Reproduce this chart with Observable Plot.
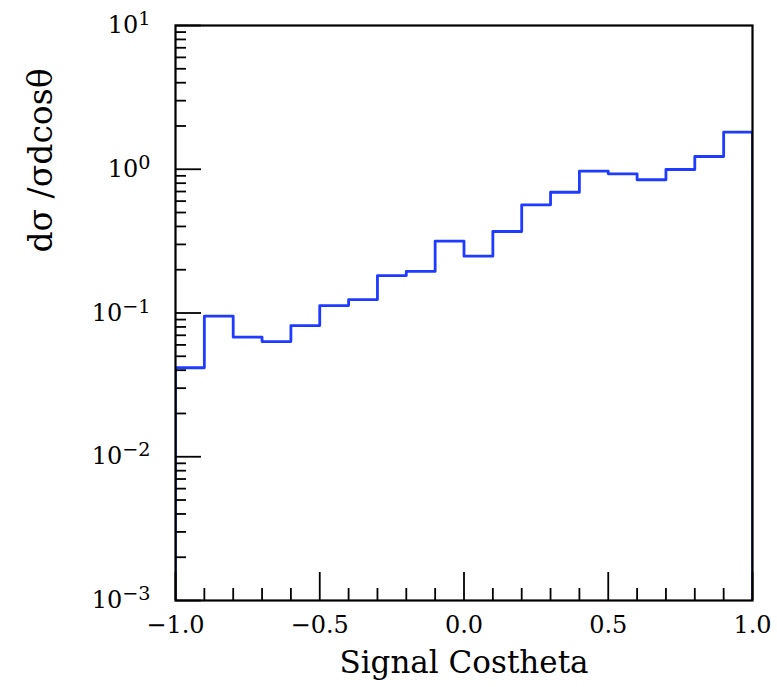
<!DOCTYPE html>
<html>
<head>
<meta charset="utf-8">
<script src="https://cdn.jsdelivr.net/npm/d3@7"></script>
<script src="https://cdn.jsdelivr.net/npm/@observablehq/plot@0.6"></script>
<style>
  html, body { margin: 0; padding: 0; background: #fff; }
  #chart { width: 777px; height: 687px; }
</style>
</head>
<body>
<div id="chart"></div>
<script>
// Normalised angular distribution of the signal, 20 bins in cos(theta)
const binLow = [-1.0, -0.9, -0.8, -0.7, -0.6, -0.5, -0.4, -0.3, -0.2, -0.1,
                 0.0,  0.1,  0.2,  0.3,  0.4,  0.5,  0.6,  0.7,  0.8,  0.9];
const binValue = [0.0416, 0.095, 0.0679, 0.0633, 0.0818, 0.1127, 0.124, 0.182, 0.1945, 0.3158,
                  0.2484, 0.369, 0.566, 0.692, 0.969, 0.93, 0.845, 0.996, 1.227, 1.81];
const binHigh = 1.0;

const xMajorTicks = [-1.0, -0.5, 0.0, 0.5, 1.0];
const xMinorTicks = [-0.9, -0.8, -0.7, -0.6, -0.4, -0.3, -0.2, -0.1,
                      0.1,  0.2,  0.3,  0.4,  0.6,  0.7,  0.8,  0.9];
const yMajorTicks = [1e-3, 1e-2, 1e-1, 1e0, 1e1];
const yMinorMantissa = [2, 3, 4, 5, 6, 7, 8, 9];
const yMinorTicks = [1e-3, 1e-2, 1e-1, 1e0].flatMap(d => yMinorMantissa.map(m => m * d));

const xTitle = "Signal Costheta";
const yTitle = "dσ /σdcosθ";

const yFloor = 1e-3;

// Histogram outline: rises from the floor at the first edge, drops back at the last
const outline = [
  {x: binLow[0], y: yFloor},
  ...binLow.map((x, i) => ({x, y: binValue[i]})),
  {x: binHigh, y: binValue[binValue.length - 1]},
  {x: binHigh, y: yFloor}
];

const blue = "#1f3bff";
const font = "DejaVu Serif";

const chart = Plot.plot({
  width: 777,
  height: 687,
  marginLeft: 175,
  marginRight: 25,
  marginTop: 25,
  marginBottom: 87,
  style: {fontFamily: font, background: "#fff", color: "#000", overflow: "visible"},
  x: {domain: [-1, 1]},
  y: {type: "log", domain: [1e-3, 1e1]},
  marks: [
    Plot.line(outline, {x: "x", y: "y", curve: "step-after", stroke: blue, strokeWidth: 2.8, clip: true}),
    // inward tick marks
    Plot.axisX({ticks: xMajorTicks, tickSize: -28, strokeWidth: 1.8, fill: "none", label: null}),
    Plot.axisX({ticks: xMinorTicks, tickSize: -12, strokeWidth: 1.8, fill: "none", label: null}),
    Plot.axisY({ticks: yMajorTicks, tickSize: -26, strokeWidth: 1.8, fill: "none", label: null}),
    Plot.axisY({ticks: yMinorTicks, tickSize: -11, strokeWidth: 1.8, fill: "none", label: null}),
    // tick labels
    Plot.axisX({ticks: xMajorTicks, tickSize: 0, tickPadding: 15, fontSize: 24,
                tickFormat: d3.format(".1f"), label: null}),
    Plot.axisY({ticks: yMajorTicks, tickSize: 0, tickPadding: 25, fontSize: 24,
                tickFormat: d => "10^" + Math.round(Math.log10(d)), label: null}),
    Plot.frame({stroke: "#000", strokeWidth: 2.2}),
    Plot.text([xTitle], {frameAnchor: "bottom", dy: 72, fontSize: 31, fill: "#000"}),
    Plot.text([yTitle], {frameAnchor: "top-left", dx: -147, dy: 135, rotate: -90, textAnchor: "middle",
                         fontSize: 33, fill: "#000", ariaLabel: "y-title"})
  ]
});

document.getElementById("chart").appendChild(chart);

// Power-of-ten labels with raised exponents
d3.select(chart).selectAll('g[aria-label="y-axis tick label"] text').each(function () {
  const [base, exp] = this.textContent.split("^");
  const t = d3.select(this);
  t.text(null);
  t.append("tspan").text(base);
  t.append("tspan").attr("dy", "-8").attr("font-size", "0.8em").text(exp.replace("-", "−"));
});

// Title of the y axis with italic Greek symbols
d3.select(chart).selectAll('g[aria-label="y-title"] text').each(function () {
  const t = d3.select(this);
  t.text(null);
  const parts = [["d", false], ["σ", true], [" /", false], ["σ", true], ["dcos", false], ["θ", true]];
  for (const [s, it] of parts) {
    const sp = t.append("tspan").text(s);
    if (it) sp.attr("font-style", "italic");
  }
});
</script>
</body>
</html>
